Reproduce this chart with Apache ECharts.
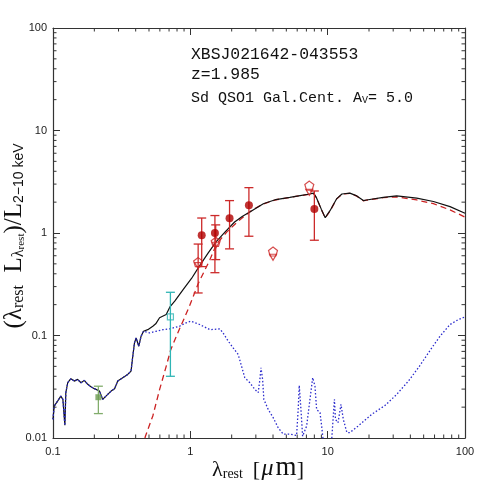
<!DOCTYPE html>
<html>
<head>
<meta charset="utf-8">
<script src="https://cdn.jsdelivr.net/npm/echarts@6/dist/echarts.min.js"></script>
<style>
html, body { margin: 0; padding: 0; background: #fff; }
#chart { width: 491px; height: 491px; }
</style>
</head>
<body>
<div id="chart"></div>
<script>
// axis ticks
const xTicks = [0.1, 1, 10, 100];
const xTickLabels = ['0.1', '1', '10', '100'];
const yTicks = [0.01, 0.1, 1, 10, 100];
const yTickLabels = ['0.01', '0.1', '1', '10', '100'];
const minorMult = [2, 3, 4, 5, 6, 7, 8, 9];

// UV part of the spectrum, shared by host and total model
const uvSpectrum = [
  [0.1, 0.0152], [0.102, 0.0205], [0.108, 0.0229], [0.114, 0.0256], [0.118, 0.0238],
  [0.122, 0.0133], [0.124, 0.0277], [0.128, 0.0346], [0.135, 0.0379], [0.143, 0.0359],
  [0.151, 0.0373], [0.16, 0.0346], [0.169, 0.0365], [0.179, 0.0334], [0.189, 0.0316],
  [0.2, 0.0303], [0.218, 0.0287], [0.23, 0.0238], [0.243, 0.0256], [0.265, 0.0287],
  [0.281, 0.0303], [0.296, 0.0359], [0.322, 0.0388], [0.35, 0.0417], [0.37, 0.0449],
  [0.381, 0.0628], [0.392, 0.0848], [0.403, 0.0948], [0.421, 0.0786], [0.438, 0.0984],
  [0.456, 0.11]
];

// total model (black solid) beyond the UV part
const totalTail = [
  [0.49, 0.114], [0.533, 0.123], [0.56, 0.13], [0.597, 0.149], [0.667, 0.16], [0.71, 0.19],
  [0.77, 0.216], [0.886, 0.28], [1.02, 0.36], [1.17, 0.48], [1.35, 0.64], [1.55, 0.83],
  [1.8, 1.03], [2.1, 1.28], [2.4, 1.46], [2.75, 1.62], [3.4, 1.93], [4.2, 2.12], [5.3, 2.23],
  [6.3, 2.32], [7.4, 2.4], [7.9, 2.45], [8.3, 2.2], [9.0, 1.7], [9.6, 1.41], [10.4, 1.65],
  [11.6, 2.15], [12.7, 2.4], [14.5, 2.45], [16.3, 2.3], [18.2, 2.07], [19.2, 2.1], [25.4, 2.23],
  [31.8, 2.3], [44.5, 2.19], [58.9, 2.03], [77.8, 1.81], [100, 1.56]
];

// host galaxy template (blue dotted) beyond the UV part
const hostTail = [
  [0.504, 0.106], [0.564, 0.11], [0.631, 0.114], [0.706, 0.116], [0.834, 0.123], [0.931, 0.133],
  [1.01, 0.138], [1.17, 0.128], [1.39, 0.114], [1.64, 0.116], [1.73, 0.106], [1.89, 0.0879],
  [2.05, 0.0758], [2.23, 0.0653], [2.36, 0.0502], [2.49, 0.0388], [2.71, 0.0346], [2.95, 0.0298],
  [3.12, 0.0277], [3.21, 0.0373], [3.27, 0.0484], [3.36, 0.0373], [3.43, 0.0238], [3.69, 0.019],
  [4.01, 0.0158], [4.36, 0.0126], [4.75, 0.0109], [5.31, 0.0109], [5.94, 0.0106], [6.1, 0.019],
  [6.21, 0.0326], [6.39, 0.019], [6.57, 0.0104], [7.03, 0.0131], [7.43, 0.0238], [7.78, 0.0388],
  [8.08, 0.0321], [8.31, 0.019], [8.79, 0.0177], [9.04, 0.0131], [9.4, 0.008], [10.6, 0.008],
  [11.2, 0.0238], [11.4, 0.0152], [11.9, 0.0141], [12.5, 0.0213], [13.0, 0.0152], [13.8, 0.0113],
  [14.5, 0.0113], [16.7, 0.0131], [20.9, 0.017], [26.2, 0.0208], [31.8, 0.0266], [38.7, 0.0359],
  [45.7, 0.0484], [51.2, 0.0605], [57.3, 0.0758], [65.8, 0.0984], [77.8, 0.128], [89.5, 0.143],
  [100, 0.152]
];

// reddened QSO1 template (red dashed)
const agnModel = [
  [0.45, 0.008], [0.471, 0.0104], [0.533, 0.0164], [0.597, 0.0296], [0.667, 0.05], [0.72, 0.0727],
  [0.81, 0.106], [0.906, 0.149], [0.985, 0.193], [1.14, 0.32], [1.39, 0.55], [1.55, 0.78],
  [1.84, 1.02], [2.17, 1.26], [2.56, 1.52], [2.87, 1.7], [3.4, 1.92], [4.2, 2.11], [5.3, 2.22],
  [6.3, 2.31], [7.4, 2.39], [7.9, 2.44], [8.3, 2.19], [9.0, 1.69], [9.6, 1.4], [10.4, 1.64],
  [11.6, 2.14], [12.7, 2.39], [14.5, 2.44], [16.3, 2.29], [18.2, 2.06], [19.2, 2.09], [25.4, 2.21],
  [31.8, 2.25], [44.5, 2.1], [58.9, 1.93], [77.8, 1.68], [100, 1.43]
];

// photometric points, filled red circles
const detWave = [1.21, 1.51, 1.93, 2.67, 8.0];
const detLum = [0.95, 1.0, 1.39, 1.87, 1.71];
const detLo = [0.47, 0.41, 0.7, 0.93, 0.85];
const detHi = [1.4, 1.48, 2.07, 2.77, 2.57];

// open pentagons with their triangles
const pentWave = [1.14, 1.53, 4.0, 7.35];
const pentLum = [0.52, 0.82, 0.66, 2.9];
const triLum = [0.48, 0.76, 0.58, 2.5];
const pentErrWave = [1.14, 1.53];
const pentLo = [0.26, 0.55];
const pentHi = [0.78, 1.2];

// cyan open square
const cyanWave = [0.716];
const cyanLum = [0.152];
const cyanLo = [0.04];
const cyanHi = [0.264];

// green filled square
const greenWave = [0.214];
const greenLum = [0.025];
const greenLo = [0.0173];
const greenHi = [0.032];

const axisColor = '#333';
const redLine = '#cc2222';
const redDot = '#b00000';
const ink = '#111';

function minorTicks(ticks) {
  const out = [];
  ticks.slice(0, -1).forEach(t => minorMult.forEach(m => out.push(+(t * m).toPrecision(3))));
  return out;
}

function tickLabel(ticks, labels) {
  return v => {
    const i = ticks.findIndex(t => Math.abs(Math.log10(t) - Math.log10(v)) < 0.01);
    return i < 0 ? '' : labels[i];
  };
}

function zip(xs, ys) {
  return xs.map((x, i) => [x, ys[i]]);
}

function errorBars(xs, lo, hi, color, cap) {
  return {
    type: 'custom',
    z: 3,
    silent: true,
    data: xs.map((x, i) => [x, lo[i], hi[i]]),
    encode: { x: 0, y: [1, 2] },
    renderItem(params, api) {
      const top = api.coord([api.value(0), api.value(2)]);
      const bot = api.coord([api.value(0), api.value(1)]);
      const st = { stroke: color, lineWidth: 1.3 };
      return {
        type: 'group',
        children: [
          { type: 'line', shape: { x1: top[0], y1: top[1], x2: bot[0], y2: bot[1] }, style: st },
          { type: 'line', shape: { x1: top[0] - cap, y1: top[1], x2: top[0] + cap, y2: top[1] }, style: st },
          { type: 'line', shape: { x1: bot[0] - cap, y1: bot[1], x2: bot[0] + cap, y2: bot[1] }, style: st }
        ]
      };
    }
  };
}

function minorTickSeries(values, isX) {
  return {
    type: 'custom',
    z: 6,
    silent: true,
    clip: false,
    data: values.map(v => (isX ? [v, 1] : [1, v])),
    encode: { x: 0, y: 1 },
    renderItem(params, api) {
      const cs = params.coordSys;
      const p = api.coord([api.value(0), api.value(1)]);
      const st = { stroke: axisColor, lineWidth: 1 };
      const len = 3.5;
      if (isX) {
        const b = cs.y + cs.height;
        return {
          type: 'group',
          children: [
            { type: 'line', shape: { x1: p[0], y1: b, x2: p[0], y2: b - len }, style: st },
            { type: 'line', shape: { x1: p[0], y1: cs.y, x2: p[0], y2: cs.y + len }, style: st }
          ]
        };
      }
      const r = cs.x + cs.width;
      return {
        type: 'group',
        children: [
          { type: 'line', shape: { x1: cs.x, y1: p[1], x2: cs.x + len, y2: p[1] }, style: st },
          { type: 'line', shape: { x1: r, y1: p[1], x2: r - len, y2: p[1] }, style: st }
        ]
      };
    }
  };
}

// rich text piece: size, vertical drop below the main line, optional box width
function piece(family, size, drop, italic, width) {
  const p = {
    fontFamily: family, fontSize: size, fontStyle: italic ? 'italic' : 'normal',
    lineHeight: size + 2 * drop, verticalAlign: 'bottom', fill: ink
  };
  if (width) {
    p.width = width;
    p.align = 'center';
  }
  return p;
}

const baseAxis = {
  type: 'log',
  logBase: 10,
  axisLine: { lineStyle: { color: axisColor, width: 1.2 } },
  axisTick: { inside: true, length: 7, lineStyle: { color: axisColor, width: 1 } },
  splitLine: { show: false },
  axisLabel: { color: '#222', fontFamily: 'Liberation Sans', fontSize: 11 }
};

const chart = echarts.init(document.getElementById('chart'));

chart.setOption({
  animation: false,
  backgroundColor: '#fff',
  grid: { left: 53, right: 26, top: 28, bottom: 53 },
  xAxis: [
    Object.assign({}, baseAxis, {
      min: 0.1, max: 100, position: 'bottom',
      axisLabel: Object.assign({}, baseAxis.axisLabel, { margin: 8, formatter: tickLabel(xTicks, xTickLabels) })
    }),
    Object.assign({}, baseAxis, { min: 0.1, max: 100, position: 'top', axisLabel: { show: false } })
  ],
  yAxis: [
    Object.assign({}, baseAxis, {
      min: 0.01, max: 100, position: 'left',
      axisLabel: Object.assign({}, baseAxis.axisLabel, { margin: 6, formatter: tickLabel(yTicks, yTickLabels) })
    }),
    Object.assign({}, baseAxis, { min: 0.01, max: 100, position: 'right', axisLabel: { show: false } })
  ],
  graphic: [
    {
      type: 'text', x: 191, y: 54.5,
      style: { text: 'XBSJ021642-043553', font: '16.4px "Liberation Mono"', fill: ink, verticalAlign: 'middle' }
    },
    {
      type: 'text', x: 191, y: 74.5,
      style: { text: 'z=1.985', font: '16.4px "Liberation Mono"', fill: ink, verticalAlign: 'middle' }
    },
    {
      type: 'text', x: 191, y: 95.5,
      style: {
        text: '{m|Sd QSO1 Gal.Cent. A}{s|V}{m|= 5.0}',
        verticalAlign: 'middle',
        rich: {
          m: piece('Liberation Mono', 15, 0),
          s: piece('Liberation Mono', 10, 5)
        }
      }
    },
    {
      type: 'text', x: 258, y: 465,
      style: {
        text: '{m|λ}{s|rest}{g| }{b|[}{i|μ}{w|m}{b|]}',
        align: 'center', verticalAlign: 'middle',
        rich: {
          m: piece('Liberation Serif', 22, 0),
          s: piece('Liberation Serif', 14, 9),
          g: piece('Liberation Serif', 10, 0, false, 10),
          b: piece('Liberation Serif', 22, 0, false, 7),
          i: piece('Liberation Serif', 24, 0, true, 15),
          w: piece('Liberation Serif', 27, 0, false, 22)
        }
      }
    },
    {
      type: 'text', x: 7, y: 236, rotation: Math.PI / 2,
      style: {
        text: '{m|(λ}{s|rest}{m|  L}{s|λ}{ss|rest}{m|)/L}{k|2−10 keV}',
        align: 'center', verticalAlign: 'middle',
        rich: {
          m: piece('Liberation Serif', 25, 0),
          s: piece('Liberation Serif', 16, 9),
          ss: piece('Liberation Serif', 11, 14),
          k: piece('Liberation Sans', 14, 9)
        }
      }
    }
  ],
  series: [
    {
      name: 'agn', type: 'line', z: 2, showSymbol: false, symbol: 'none',
      data: agnModel,
      lineStyle: { color: redLine, width: 1.3, type: [6, 4] }
    },
    {
      name: 'total', type: 'line', z: 2, showSymbol: false, symbol: 'none',
      data: uvSpectrum.concat(totalTail),
      lineStyle: { color: ink, width: 1.2 }
    },
    {
      name: 'host', type: 'line', z: 2, showSymbol: false, symbol: 'none',
      data: uvSpectrum.concat(hostTail),
      lineStyle: { color: '#2a2acc', width: 1.3, type: [1.5, 2] }
    },
    errorBars(detWave, detLo, detHi, '#cc2a2a', 4.5),
    errorBars(pentErrWave, pentLo, pentHi, '#cc2a2a', 4.5),
    errorBars(cyanWave, cyanLo, cyanHi, '#2fb5b5', 4.5),
    errorBars(greenWave, greenLo, greenHi, '#82ad6c', 4.5),
    {
      type: 'scatter', z: 4, symbol: 'circle', symbolSize: 8,
      data: zip(detWave, detLum),
      itemStyle: { color: redDot }
    },
    {
      type: 'scatter', z: 4,
      symbol: 'path://M0,-10L9.51,-3.09L5.88,8.09L-5.88,8.09L-9.51,-3.09Z', symbolSize: [9, 9],
      data: zip(pentWave, pentLum),
      itemStyle: { color: 'rgba(0,0,0,0)', borderColor: redLine, borderWidth: 1.2 }
    },
    {
      type: 'scatter', z: 4,
      symbol: 'path://M-10,-8L10,-8L0,10Z', symbolSize: [7, 6],
      data: zip(pentWave, triLum),
      itemStyle: { color: 'rgba(0,0,0,0)', borderColor: redLine, borderWidth: 1.2 }
    },
    {
      type: 'scatter', z: 4, symbol: 'rect', symbolSize: 6,
      data: zip(cyanWave, cyanLum),
      itemStyle: { color: 'rgba(0,0,0,0)', borderColor: '#2fb5b5', borderWidth: 1.2 }
    },
    {
      type: 'scatter', z: 4, symbol: 'rect', symbolSize: 6,
      data: zip(greenWave, greenLum),
      itemStyle: { color: '#6b9a50' }
    },
    minorTickSeries(minorTicks(xTicks), true),
    minorTickSeries(minorTicks(yTicks), false)
  ]
});
</script>
</body>
</html>
